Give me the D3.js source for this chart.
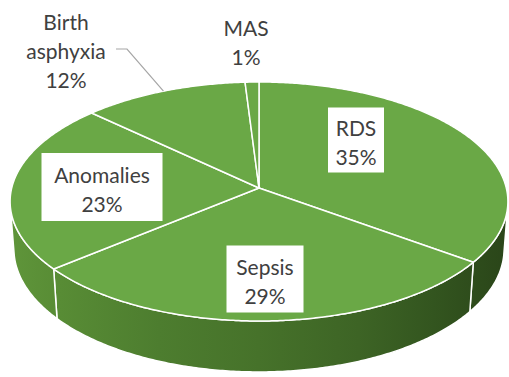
<!DOCTYPE html>
<html>
<head>
<meta charset="utf-8">
<script src="https://cdn.jsdelivr.net/npm/d3@7/dist/d3.min.js"></script>
<style>
  html, body { margin: 0; padding: 0; background: #ffffff; }
  svg { display: block; }
  text { font-family: Lato, "Open Sans", sans-serif; fill: #404040; }
</style>
</head>
<body>
<svg id="chart" width="509" height="377"></svg>
<script>
// Causes of neonatal mortality (share of deaths, %)
const categories = ["RDS", "Sepsis", "Anomalies", "Birth asphyxia", "MAS"];
const shares = [35, 29, 23, 12, 1];

// Label placement: boxed labels sit on the slice, the others sit outside
const labelLayout = [
  { x: 356, y: 140, box: [56, 65] },
  { x: 265, y: 279, box: [77, 67] },
  { x: 102, y: 187, box: [121, 68] },
  { x: 66, y: 30, leader: [[116, 49], [127, 49]] },
  { x: 246, y: 36 }
];

const colors = { top: "#6aa846", edge: "#ffffff", text: "#404040", leader: "#a6a6a6" };

// Perspective camera for the tilted disc
const cam = { cx: 259, cy: 188, fx: 1896, fy: 1809, tilt: 30 * Math.PI / 180, dist: 7.667, depth: 0.235 };
const sT = Math.sin(cam.tilt), cT = Math.cos(cam.tilt);

// theta: clockwise from 12 o'clock, r: radius fraction, w: height (0 = top face)
function project(theta, r, w) {
  const u = r * Math.sin(theta);
  const v = -r * Math.cos(theta);
  const z = cam.dist - v * cT - w * sT;
  return [cam.cx + cam.fx * u / z, cam.cy + cam.fy * (v * sT - w * cT) / z];
}

const svg = d3.select("#chart");

const pie = d3.pie().sort(null).value(d => d.value);
const arcs = pie(categories.map((c, i) => ({ name: c, value: shares[i], i })));

const line = d3.line();
function arcPoints(a0, a1, w) {
  const n = Math.max(2, Math.ceil((a1 - a0) / 0.01));
  return d3.range(n + 1).map(k => project(a0 + (a1 - a0) * k / n, 1, w));
}

// Side wall shading
const defs = svg.append("defs");
const grad = defs.append("linearGradient")
  .attr("id", "wall").attr("gradientUnits", "userSpaceOnUse")
  .attr("x1", 10).attr("x2", 508).attr("y1", 0).attr("y2", 0);
[[0, "#5f953a"], [0.1, "#588c35"], [0.3, "#4d7d2f"], [0.5, "#46722a"],
 [0.7, "#3d6425"], [0.85, "#33551f"], [1, "#2a4519"]]
  .forEach(([o, c]) => grad.append("stop").attr("offset", o).attr("stop-color", c));

// Visible part of the outer wall (faces the camera)
const vis = Math.acos(-1 / (cam.dist * cT));
const wallA = vis, wallB = 2 * Math.PI - vis;

const wallG = svg.append("g");
arcs.forEach(a => {
  const a0 = Math.max(a.startAngle, wallA), a1 = Math.min(a.endAngle, wallB);
  if (a1 <= a0) return;
  const pts = arcPoints(a0, a1, 0).concat(arcPoints(a0, a1, -cam.depth).reverse());
  wallG.append("path")
    .attr("d", line(pts) + "Z")
    .attr("fill", "url(#wall)")
    .attr("stroke", colors.edge).attr("stroke-width", 1.5)
    .attr("stroke-linejoin", "round");
});

// Top face slices
const topG = svg.append("g");
arcs.forEach(a => {
  const pts = [project(0, 0, 0)].concat(arcPoints(a.startAngle, a.endAngle, 0));
  topG.append("path")
    .attr("d", line(pts) + "Z")
    .attr("fill", colors.top)
    .attr("stroke", colors.edge).attr("stroke-width", 1.5)
    .attr("stroke-linejoin", "round");
});

// Labels
const lineGap = 29;
const labG = svg.append("g");
arcs.forEach((a, i) => {
  const L = labelLayout[i];
  const lines = a.data.name.split(" ").concat([a.data.value + "%"]);
  const g = labG.append("g");
  if (L.box) {
    const [bw, bh] = L.box;
    g.append("rect")
      .attr("x", L.x - bw / 2).attr("y", L.y - bh / 2)
      .attr("width", bw).attr("height", bh)
      .attr("fill", "#ffffff");
    lines.forEach((t, k) => {
      g.append("text")
        .attr("x", L.x).attr("y", L.y - 4.5 + k * lineGap)
        .attr("text-anchor", "middle").attr("font-size", 21)
        .text(t);
    });
  } else {
    lines.forEach((t, k) => {
      g.append("text")
        .attr("x", L.x).attr("y", L.y + k * lineGap)
        .attr("text-anchor", "middle").attr("font-size", 21)
        .text(t);
    });
    if (L.leader) {
      const mid = (a.startAngle + a.endAngle) / 2;
      const pts = L.leader.concat([project(mid, 1, 0)]);
      g.append("path")
        .attr("d", line(pts))
        .attr("fill", "none")
        .attr("stroke", colors.leader).attr("stroke-width", 1.2);
    }
  }
});
</script>
</body>
</html>
